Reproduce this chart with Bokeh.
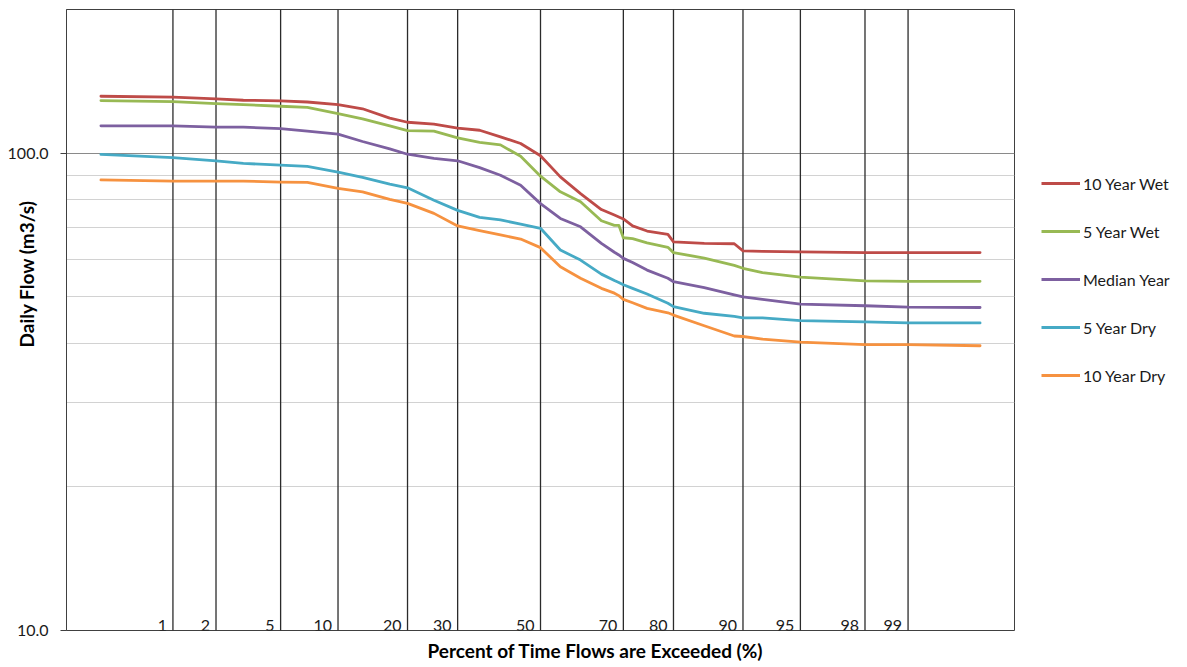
from statistics import NormalDist

from bokeh.plotting import figure
from bokeh.layouts import row
from bokeh.models import (FixedTicker, PrintfTickFormatter, Legend, LegendItem,
                          LogAxis, Title, ColumnDataSource)
from bokeh.core.properties import value
from bokeh.embed import file_html
from bokeh.resources import INLINE

# Percent of time each flow is exceeded (duration-curve positions)
pct_exceeded = [0.27, 1, 2, 3, 5, 7, 10, 13, 17, 20, 25, 30, 35, 40, 45, 50, 55,
                60, 65, 68, 69, 70, 72, 75, 79, 80, 85, 89, 90, 92, 95, 98, 99, 99.73]

# Daily flow (m3/s) for each year type
wet_10yr = [131.6, 131.0, 130.0, 129.1, 128.7, 128.0, 126.4, 123.9, 118.4, 116.1,
            115.0, 112.8, 111.7, 108.2, 104.8, 98.8, 89.2, 82.3, 76.2, 74.2, 73.5,
            72.8, 70.4, 68.7, 67.6, 65.2, 64.7, 64.6, 62.4, 62.3, 62.1, 61.9, 61.9, 61.9]
wet_5yr = [128.9, 128.3, 127.0, 126.4, 125.4, 124.7, 121.0, 118.0, 114.1, 111.5,
           111.2, 107.7, 105.4, 104.1, 98.5, 89.5, 83.0, 79.1, 72.2, 70.6, 70.6,
           66.5, 66.2, 64.9, 63.5, 61.9, 60.3, 58.2, 57.4, 56.2, 55.0, 54.0, 53.9, 53.9]
median_yr = [114.1, 114.1, 113.4, 113.4, 112.6, 111.2, 109.6, 105.8, 102.1, 99.5,
             97.5, 96.4, 93.3, 89.9, 85.7, 78.4, 73.0, 70.1, 64.7, 62.0, 61.2, 60.2,
             59.0, 56.9, 54.7, 53.8, 52.3, 50.5, 50.0, 49.4, 48.3, 47.9, 47.6, 47.5]
dry_5yr = [99.4, 97.9, 96.4, 95.2, 94.4, 93.8, 91.3, 89.0, 86.1, 84.6, 79.7, 75.9,
           73.4, 72.5, 71.0, 69.6, 62.7, 59.7, 55.8, 54.1, 53.6, 53.0, 52.1, 50.7,
           48.5, 47.7, 46.2, 45.5, 45.2, 45.2, 44.6, 44.3, 44.1, 44.1]
dry_10yr = [87.9, 87.4, 87.4, 87.4, 87.0, 86.9, 84.4, 83.0, 80.0, 78.5, 74.8, 70.4,
            68.8, 67.4, 66.1, 63.4, 57.8, 54.7, 52.1, 50.9, 50.3, 49.4, 48.6, 47.3,
            46.3, 45.8, 43.5, 41.4, 41.3, 40.8, 40.2, 39.7, 39.7, 39.5]

series_names = ["10 Year Wet", "5 Year Wet", "Median Year", "5 Year Dry", "10 Year Dry"]
series_values = [wet_10yr, wet_5yr, median_yr, dry_5yr, dry_10yr]
series_colors = ["#BE4B48", "#98B954", "#7D60A0", "#46AAC5", "#F69240"]

# Probability-paper reference lines and their labels
prob_ticks = [1, 2, 5, 10, 20, 30, 50, 70, 80, 90, 95, 98, 99]
prob_labels = [str(t) for t in prob_ticks]

FONT = "Lato"
LINE_W = 2.8
NBSP = "\u00a0"
nd = NormalDist()


def to_z(p):
    """Percent exceedance -> standard normal variate (probability scale)."""
    return nd.inv_cdf(p / 100.0)


Y_MIN, Y_MAX = 10, 200

p = figure(width=1015, height=667, x_range=(-3, 3), y_range=(Y_MIN, Y_MAX),
           y_axis_type="log", x_axis_location=None,
           output_backend="svg", toolbar_location=None,
           min_border_left=66, min_border_right=1,
           min_border_top=9, min_border_bottom=36)
p.background_fill_color = "white"
p.border_fill_color = "white"
p.outline_line_color = "#404040"
p.outline_line_width = 1

# y axis: labelled decades, unlabelled minor gridlines
decade_ticker = FixedTicker(ticks=[10, 100], minor_ticks=[20, 30, 40, 50, 60, 70, 80, 90])
p.yaxis.ticker = decade_ticker
p.yaxis.formatter = PrintfTickFormatter(format="%.1f")
p.yaxis.major_label_text_font = FONT
p.yaxis.major_label_text_font_size = "16px"
p.yaxis.major_label_text_color = "#1a1a1a"
p.yaxis.major_label_standoff = 12
p.yaxis.major_tick_out = 6
p.yaxis.major_tick_in = 0
p.yaxis.minor_tick_out = 0
p.yaxis.minor_tick_in = 0
p.yaxis.axis_line_color = "#404040"
p.yaxis.major_tick_line_color = "#404040"

p.ygrid.ticker = decade_ticker
p.ygrid.grid_line_color = "#8a8a8a"
p.ygrid.grid_line_width = 1
p.ygrid.minor_grid_line_color = "#d2d2d2"
p.ygrid.minor_grid_line_width = 1.2
p.xgrid.grid_line_color = None

# y-axis title: a bare axis whose label tucks in beside the tick labels;
# leading no-break spaces lift the title above the frame centre
y_title_axis = LogAxis(axis_label=NBSP * 20 + "Daily Flow (m3/s)",
                       ticker=FixedTicker(ticks=[]), axis_line_color=None,
                       major_tick_line_color=None, minor_tick_line_color=None,
                       major_label_text_font_size="0px",
                       axis_label_standoff=-33,
                       axis_label_text_font=FONT, axis_label_text_font_size="19px",
                       axis_label_text_font_style="bold",
                       axis_label_text_color="#000000")
p.add_layout(y_title_axis, "left")

# x-axis title below the frame, starting part-way along it
p.add_layout(Title(text="Percent of Time Flows are Exceeded (%)", align="left",
                   offset=361, standoff=12, text_font=FONT, text_font_size="19px",
                   text_font_style="bold", text_color="#000000"), "below")

# vertical probability lines
tick_z = [to_z(t) for t in prob_ticks]
p.segment(x0=tick_z, y0=[Y_MIN] * len(tick_z), x1=tick_z, y1=[Y_MAX] * len(tick_z),
          line_color="#2b2b2b", line_width=1.3)

# probability labels along the bottom, just left of each line
p.text(x=tick_z, y=[Y_MIN] * len(tick_z), text=prob_labels,
       text_font=value(FONT), text_font_size="16px", text_color="#1a1a1a",
       text_align="right", text_baseline="alphabetic",
       x_offset=-6, y_offset=-5)

# flow duration curves
xs = [to_z(v) for v in pct_exceeded]
for name, vals, col in zip(series_names, series_values, series_colors):
    src = ColumnDataSource(dict(x=xs, y=vals))
    p.line("x", "y", source=src, line_color=col, line_width=LINE_W,
           line_join="round", line_cap="round")

# legend panel to the right of the chart (proxy lines carry the styles)
leg = figure(width=172, height=667, x_range=(0, 1), y_range=(0, 1),
             x_axis_location=None, y_axis_location=None,
             output_backend="svg", toolbar_location=None, min_border=0)
leg.outline_line_color = None
leg.grid.visible = False
leg.background_fill_color = "white"
leg.border_fill_color = "white"
items = []
for name, col in zip(series_names, series_colors):
    r = leg.line(x=[float("nan")], y=[float("nan")], line_color=col, line_width=LINE_W)
    items.append(LegendItem(label=name, renderers=[r]))
legend = Legend(items=items, location=(26, 245), orientation="vertical",
                glyph_width=39, glyph_height=20, label_height=20,
                label_standoff=3, spacing=28, padding=0, margin=0,
                label_text_font=FONT, label_text_font_size="16px",
                label_text_color="#1a1a1a",
                border_line_color=None, background_fill_alpha=0)
leg.add_layout(legend)

layout = row(p, leg)
open("out.html", "w").write(file_html(layout, INLINE))
